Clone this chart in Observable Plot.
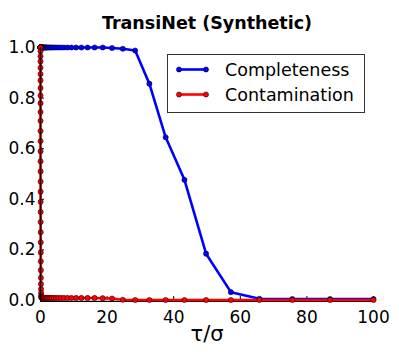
<!DOCTYPE html>
<html><head><meta charset="utf-8">
<script src="https://cdn.jsdelivr.net/npm/d3@7"></script>
<script src="https://cdn.jsdelivr.net/npm/@observablehq/plot@0.6"></script>
<style>body{margin:0;background:#fff;font-family:"DejaVu Sans",sans-serif}</style>
</head><body><div id="chart"></div>
<script>
const title = "TransiNet (Synthetic)";
const xLabel = "τ/σ";
const seriesNames = ["Completeness", "Contamination"];
const seriesColors = ["#0000ff", "#ff0000"];
const xTicks = [0, 20, 40, 60, 80, 100];
const yTicks = [0, 0.2, 0.4, 0.6, 0.8, 1.0];

const tau = [
  0.00280, 0.00322, 0.00371, 0.00426, 0.00490, 0.00564, 0.00648, 0.00745, 0.00857, 0.00986,
  0.0113, 0.0130, 0.0150, 0.0172, 0.0198, 0.0228, 0.0262, 0.0302, 0.0347, 0.0399,
  0.0459, 0.0528, 0.0607, 0.0698, 0.0802, 0.0923, 0.106, 0.122, 0.140, 0.161,
  0.186, 0.213, 0.245, 0.282, 0.325, 0.373, 0.429, 0.494, 0.568, 0.653,
  0.751, 0.864, 0.993, 1.142, 1.313, 1.510, 1.737, 1.997, 2.297, 2.642,
  3.038, 3.493, 4.017, 4.620, 5.313, 6.110, 7.027, 8.081, 9.293, 10.69,
  12.29, 14.13, 16.25, 18.69, 21.49, 24.72, 28.43, 32.69, 37.59, 43.23,
  49.72, 57.18, 65.75, 75.61, 86.96, 100
];
const completeness = [
  1, 1, 1, 1, 1, 1, 1, 1, 1, 1,
  1, 1, 1, 1, 1, 1, 1, 1, 1, 1,
  1, 1, 1, 1, 1, 1, 1, 1, 1, 1,
  1, 1, 1, 1, 1, 1, 1, 1, 1, 1,
  1, 1, 1, 1, 1, 1, 1, 1, 1, 1,
  1, 1, 1, 1, 1, 1, 1, 1, 1, 1,
  1, 1, 1, 1, 0.998, 0.995, 0.988, 0.857, 0.645, 0.477,
  0.185, 0.033, 0.007, 0.006, 0.006, 0.006
];
const contamination = [
  1.0, 0.985, 0.965, 0.945, 0.92, 0.895, 0.87, 0.84, 0.81, 0.78,
  0.745, 0.71, 0.67, 0.63, 0.59, 0.55, 0.51, 0.47, 0.43, 0.39,
  0.35, 0.31, 0.27, 0.23, 0.19, 0.155, 0.12, 0.09, 0.065, 0.045,
  0.03, 0.02, 0.015, 0.012, 0.011, 0.011, 0.01, 0.01, 0.01, 0.01,
  0.01, 0.01, 0.01, 0.01, 0.01, 0.01, 0.01, 0.01, 0.01, 0.01,
  0.01, 0.01, 0.01, 0.01, 0.01, 0.01, 0.01, 0.01, 0.01, 0.01,
  0.01, 0.01, 0.01, 0.009, 0.008, 0.003, 0.002, 0.002, 0.002, 0.002,
  0.002, 0.002, 0.002, 0.002, 0.002, 0.002
];

const rows = tau.map((t, i) => ({tau: t, completeness: completeness[i], contamination: contamination[i]}));

const W = 399, H = 354;
const mL = 40, mR = 26, mT = 47, mB = 54;

const plot = Plot.plot({
  width: W, height: H,
  marginLeft: mL, marginRight: mR, marginTop: mT, marginBottom: mB,
  style: {fontFamily: "DejaVu Sans", fontSize: "17px", background: "#fff", color: "#000"},
  x: {domain: [0, 100]},
  y: {domain: [0, 1]},
  marks: [
    Plot.axisX({ticks: xTicks, tickSize: -4, tickPadding: 14, label: null, fontSize: 17, stroke: "#000"}),
    Plot.axisY({ticks: yTicks, tickSize: -4, tickPadding: 9, label: null, tickFormat: d3.format(".1f"), fontSize: 17}),
    Plot.ruleY([0], {stroke: "#000", strokeWidth: 1.3, dy: 0.8}),
    Plot.line(rows, {x: "tau", y: "completeness", stroke: seriesColors[0], strokeWidth: 2.6}),
    Plot.dot(rows, {x: "tau", y: "completeness", r: 2.6, fill: seriesColors[0], stroke: "#000", strokeWidth: 0.5}),
    Plot.line(rows, {x: "tau", y: "contamination", stroke: seriesColors[1], strokeWidth: 2.6}),
    Plot.dot(rows, {x: "tau", y: "contamination", r: 2.6, fill: seriesColors[1], stroke: "#000", strokeWidth: 0.5}),
    Plot.ruleX([0], {stroke: "#000", strokeWidth: 1.3}),
    Plot.text([title], {frameAnchor: "top", dy: -31, fontWeight: "bold", fontSize: 17.5, fill: "#000"}),
    Plot.text([xLabel], {frameAnchor: "bottom", dy: 40, fontSize: 21, fill: "#000"})
  ]
});

// legend box
const svg = d3.select(plot);
const lg = svg.append("g").attr("text-anchor", "start");
const bx = 167.5, by = 54.5, bw = 197, bh = 58;
lg.append("rect").attr("x", bx).attr("y", by).attr("width", bw).attr("height", bh)
  .attr("fill", "#fff").attr("stroke", "#333").attr("stroke-width", 1);
seriesNames.forEach((name, i) => {
  const cy = 69.5 + i * 25;
  lg.append("line").attr("x1", 179).attr("x2", 206).attr("y1", cy).attr("y2", cy)
    .attr("stroke", seriesColors[i]).attr("stroke-width", 2.6);
  [179, 206].forEach(cx => lg.append("circle").attr("cx", cx).attr("cy", cy).attr("r", 2.6)
    .attr("fill", seriesColors[i]).attr("stroke", "#000").attr("stroke-width", 0.5));
  lg.append("text").attr("x", 225).attr("y", cy).attr("dy", "0.36em")
    .attr("text-anchor", "start")
    .attr("font-size", 17.5).attr("fill", "#000").text(name);
});

document.getElementById("chart").appendChild(plot);
</script>
</body></html>
